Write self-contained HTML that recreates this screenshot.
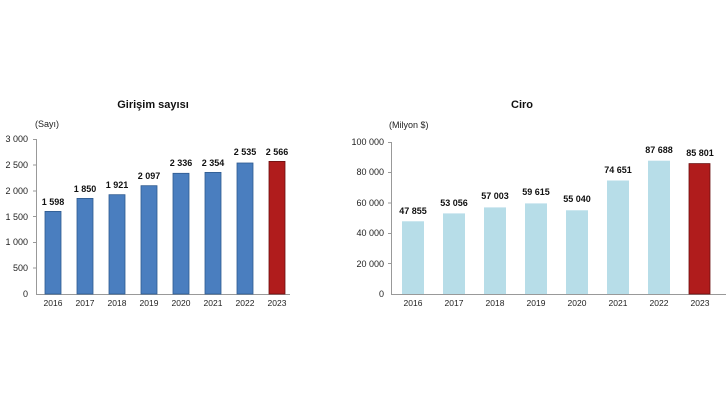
<!DOCTYPE html>
<html><head><meta charset="utf-8"><style>
html,body{margin:0;padding:0;background:#fff;}
svg{display:block;font-family:"Liberation Sans",Arial,sans-serif;}
</style></head><body>
<svg width="728" height="410" viewBox="0 0 728 410">
<rect width="728" height="410" fill="#fff"/>
<!-- Left chart -->
<text x="153" y="108" font-size="11" font-weight="bold" text-anchor="middle" fill="#111">Girişim sayısı</text>
<text x="35" y="127" font-size="9" fill="#222">(Sayı)</text>
<g font-size="9" fill="#222" text-anchor="end">
<text x="28" y="297">0</text><text x="28" y="271">500</text><text x="28" y="245">1 000</text>
<text x="28" y="220">1 500</text><text x="28" y="194">2 000</text><text x="28" y="168">2 500</text><text x="28" y="142">3 000</text>
</g>
<g stroke="#999" stroke-width="1">
<line x1="36.5" y1="139" x2="36.5" y2="294"/><line x1="36" y1="294.5" x2="290" y2="294.5"/>
<line x1="33" y1="139.5" x2="36" y2="139.5"/><line x1="33" y1="165" x2="36" y2="165"/><line x1="33" y1="191" x2="36" y2="191"/>
<line x1="33" y1="216.5" x2="36" y2="216.5"/><line x1="33" y1="242.5" x2="36" y2="242.5"/><line x1="33" y1="268" x2="36" y2="268"/>
</g>
<g fill="#4a7ebf" stroke="#2e5a8f" stroke-width="0.8">
<rect x="45" y="211.4" width="16" height="82.6"/><rect x="77" y="198.4" width="16" height="95.6"/>
<rect x="109" y="194.7" width="16" height="99.3"/><rect x="141" y="185.7" width="16" height="108.3"/>
<rect x="173" y="173.3" width="16" height="120.7"/><rect x="205" y="172.4" width="16" height="121.6"/>
<rect x="237" y="163" width="16" height="131"/>
</g>
<rect x="269" y="161.4" width="16" height="132.6" fill="#b01c1c" stroke="#6a0f0f" stroke-width="0.8"/>
<g font-size="9" font-weight="bold" fill="#111" text-anchor="middle">
<text x="53" y="205">1 598</text><text x="85" y="192">1 850</text><text x="117" y="188">1 921</text><text x="149" y="179">2 097</text>
<text x="181" y="166">2 336</text><text x="213" y="166">2 354</text><text x="245" y="155">2 535</text><text x="277" y="155">2 566</text>
</g>
<g font-size="8.5" fill="#222" text-anchor="middle">
<text x="53" y="306">2016</text><text x="85" y="306">2017</text><text x="117" y="306">2018</text><text x="149" y="306">2019</text>
<text x="181" y="306">2020</text><text x="213" y="306">2021</text><text x="245" y="306">2022</text><text x="277" y="306">2023</text>
</g>
<!-- Right chart -->
<text x="522" y="108" font-size="11" font-weight="bold" text-anchor="middle" fill="#111">Ciro</text>
<text x="389" y="128" font-size="9" fill="#222">(Milyon $)</text>
<g font-size="9" fill="#222" text-anchor="end">
<text x="384" y="297">0</text><text x="384" y="267">20 000</text><text x="384" y="236">40 000</text>
<text x="384" y="206">60 000</text><text x="384" y="175">80 000</text><text x="384" y="145">100 000</text>
</g>
<g stroke="#999" stroke-width="1">
<line x1="391.5" y1="142" x2="391.5" y2="294"/><line x1="391" y1="294.5" x2="726" y2="294.5"/>
<line x1="388" y1="142.5" x2="391" y2="142.5"/><line x1="388" y1="172.5" x2="391" y2="172.5"/><line x1="388" y1="203" x2="391" y2="203"/>
<line x1="388" y1="233.5" x2="391" y2="233.5"/><line x1="388" y1="263.5" x2="391" y2="263.5"/>
</g>
<g fill="#b7dde8">
<rect x="402" y="221.3" width="22" height="72.7"/><rect x="443" y="213.4" width="22" height="80.6"/>
<rect x="484" y="207.4" width="22" height="86.6"/><rect x="525" y="203.4" width="22" height="90.6"/>
<rect x="566" y="210.3" width="22" height="83.7"/><rect x="607" y="180.5" width="22" height="113.5"/>
<rect x="648" y="160.7" width="22" height="133.3"/>
</g>
<rect x="689" y="163.6" width="21" height="130.4" fill="#b01c1c" stroke="#6a0f0f" stroke-width="0.8"/>
<g font-size="9" font-weight="bold" fill="#111" text-anchor="middle">
<text x="413" y="214">47 855</text><text x="454" y="206">53 056</text><text x="495" y="199">57 003</text><text x="536" y="195">59 615</text>
<text x="577" y="202">55 040</text><text x="618" y="173">74 651</text><text x="659" y="153">87 688</text><text x="700" y="156">85 801</text>
</g>
<g font-size="8.5" fill="#222" text-anchor="middle">
<text x="413" y="306">2016</text><text x="454" y="306">2017</text><text x="495" y="306">2018</text><text x="536" y="306">2019</text>
<text x="577" y="306">2020</text><text x="618" y="306">2021</text><text x="659" y="306">2022</text><text x="700" y="306">2023</text>
</g>
</svg>
</body></html>
